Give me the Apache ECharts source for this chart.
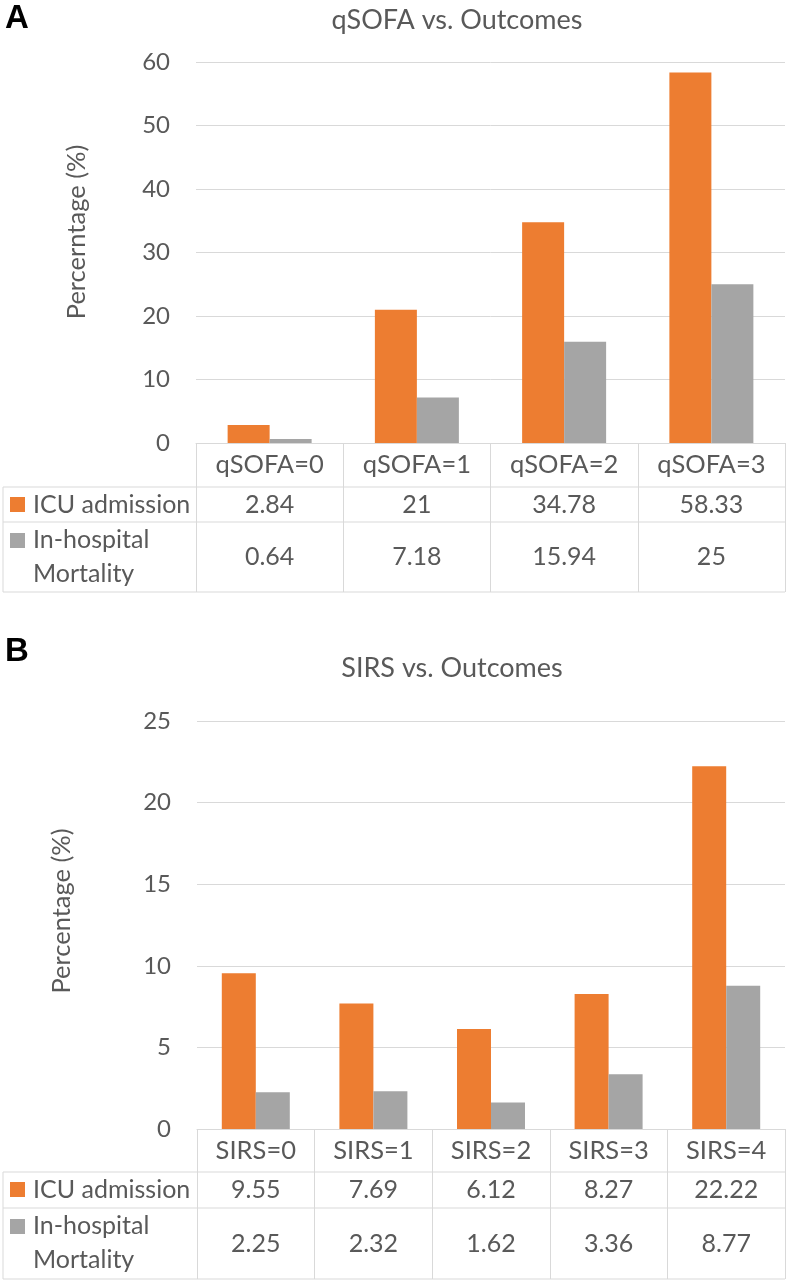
<!DOCTYPE html>
<html>
<head>
<meta charset="utf-8">
<script src="https://cdn.jsdelivr.net/npm/echarts@6/dist/echarts.min.js"></script>
<style>
html,body{margin:0;padding:0;background:#fff;}
#c{width:787px;height:1281px;}
</style>
</head>
<body>
<div id="c"></div>
<script>
// ---- data ----
const seriesNames = ['ICU admission', 'In-hospital Mortality'];
const catsA = ['qSOFA=0', 'qSOFA=1', 'qSOFA=2', 'qSOFA=3'];
const icuA = [2.84, 21, 34.78, 58.33];
const mortA = [0.64, 7.18, 15.94, 25];
const catsB = ['SIRS=0', 'SIRS=1', 'SIRS=2', 'SIRS=3', 'SIRS=4'];
const icuB = [9.55, 7.69, 6.12, 8.27, 22.22];
const mortB = [2.25, 2.32, 1.62, 3.36, 8.77];
const titles = ['qSOFA vs. Outcomes', 'SIRS vs. Outcomes'];
const yNames = ['Percerntage (%)', 'Percentage (%)'];
const panelLetters = ['A', 'B'];

// ---- style ----
const FONT = 'Lato';
const TXT = '#595959';
const LINE = '#D9D9D9';
const ORANGE = '#ED7D31';
const GRAY = '#A5A5A5';
const FS_TICK = 24, FS_TAB = 25, FS_HEAD = 25.5, FS_NAME = 25.5, FS_TITLE = 27;

const rowsA = [44, 35, 70];
const rowsB = [43, 36, 71];

function xAxisFor(gi, cats, icu, mort, rows) {
  const total = rows[0] + rows[1] + rows[2];
  return {
    type: 'category', gridIndex: gi, data: cats,
    axisLine: { show: true, lineStyle: { color: LINE, width: 1 } },
    axisTick: { show: true, length: total, interval: 0, lineStyle: { color: LINE, width: 1 } },
    axisLabel: {
      interval: 0, margin: 0, verticalAlign: 'top',
      fontFamily: FONT, fontSize: FS_TAB, color: TXT,
      formatter: function (v, i) {
        return '{h|' + v + '}\n{a|' + icu[i] + '}\n{b|' + mort[i] + '}';
      },
      rich: {
        h: { fontFamily: FONT, fontSize: FS_HEAD, color: TXT, lineHeight: rows[0] },
        a: { fontFamily: FONT, fontSize: FS_TAB, color: TXT, lineHeight: rows[1] },
        b: { fontFamily: FONT, fontSize: FS_TAB, color: TXT, lineHeight: rows[2] }
      }
    }
  };
}
function yAxisFor(gi, max, interval) {
  return {
    type: 'value', gridIndex: gi, min: 0, max: max, interval: interval,
    axisLine: { show: false }, axisTick: { show: false },
    axisLabel: { margin: 26, fontFamily: FONT, fontSize: FS_TICK, color: TXT },
    splitLine: { lineStyle: { color: LINE, width: 1 } }
  };
}

const chart = echarts.init(document.getElementById('c'), null, { renderer: 'canvas' });
chart.setOption({
  animation: false,
  backgroundColor: '#fff',
  grid: [
    { left: 196, right: 2, top: 62, height: 381 },
    { left: 197, right: 2, top: 721, height: 408 }
  ],
  xAxis: [xAxisFor(0, catsA, icuA, mortA, rowsA), xAxisFor(1, catsB, icuB, mortB, rowsB)],
  yAxis: [yAxisFor(0, 60, 10), yAxisFor(1, 25, 5)],
  series: [
    { type: 'bar', name: seriesNames[0], xAxisIndex: 0, yAxisIndex: 0, data: icuA, barWidth: 42, barGap: '0%', itemStyle: { color: ORANGE } },
    { type: 'bar', name: seriesNames[1], xAxisIndex: 0, yAxisIndex: 0, data: mortA, barWidth: 42, barGap: '0%', itemStyle: { color: GRAY } },
    { type: 'bar', name: seriesNames[0], xAxisIndex: 1, yAxisIndex: 1, data: icuB, barWidth: 34, barGap: '0%', itemStyle: { color: ORANGE } },
    { type: 'bar', name: seriesNames[1], xAxisIndex: 1, yAxisIndex: 1, data: mortB, barWidth: 34, barGap: '0%', itemStyle: { color: GRAY } }
  ]
});

// ---- table framing, legend keys, titles, axis names ----
const graphics = [];
function tableDecor(gi, rows, p) {
  const y0 = chart.convertToPixel({ yAxisIndex: gi }, 0);
  const xR = 785, xL = 3;
  const r1 = y0 + rows[0], r2 = r1 + rows[1], r3 = r2 + rows[2];
  [r1, r2, r3].forEach(function (yy) {
    graphics.push({ type: 'line', shape: { x1: xL, y1: yy, x2: xR, y2: yy }, style: { stroke: LINE, lineWidth: 1 } });
  });
  graphics.push({ type: 'line', shape: { x1: xL, y1: r1, x2: xL, y2: r3 }, style: { stroke: LINE, lineWidth: 1 } });
  graphics.push({ type: 'rect', shape: { x: 10, y: r1 + 10, width: 15, height: 15 }, style: { fill: ORANGE } });
  graphics.push({ type: 'text', style: { text: seriesNames[0], x: 33, y: r1 + rows[1] / 2, verticalAlign: 'middle', fontFamily: FONT, fontSize: FS_TAB, fill: TXT } });
  graphics.push({ type: 'rect', shape: { x: 10, y: r2 + 11, width: 15, height: 15 }, style: { fill: GRAY } });
  graphics.push({ type: 'text', style: { text: seriesNames[1].replace(' ', '\n'), x: 33, y: r2 + 1, lineHeight: 34, verticalAlign: 'top', fontFamily: FONT, fontSize: FS_TAB, fill: TXT } });
  graphics.push({ type: 'text', style: { text: p.title, x: p.titleX, y: p.titleY, align: 'center', verticalAlign: 'middle', fontFamily: FONT, fontSize: FS_TITLE, fill: TXT } });
  graphics.push({ type: 'text', style: { text: p.letter, x: 5, y: p.letterY, verticalAlign: 'middle', fontFamily: 'Liberation Sans', fontWeight: 'bold', fontSize: 33, fill: '#000' } });
  graphics.push({ type: 'text', x: p.nameX, y: p.nameY, rotation: Math.PI / 2, style: { text: p.yName, x: 0, y: 0, align: 'center', verticalAlign: 'middle', fontFamily: FONT, fontSize: FS_NAME, fill: TXT } });
}
tableDecor(0, rowsA, { title: titles[0], titleX: 457, titleY: 20, letter: panelLetters[0], letterY: 19, yName: yNames[0], nameX: 77, nameY: 232 });
tableDecor(1, rowsB, { title: titles[1], titleX: 452, titleY: 668, letter: panelLetters[1], letterY: 652, yName: yNames[1], nameX: 62, nameY: 911 });
chart.setOption({ graphic: graphics });
</script>
</body>
</html>
